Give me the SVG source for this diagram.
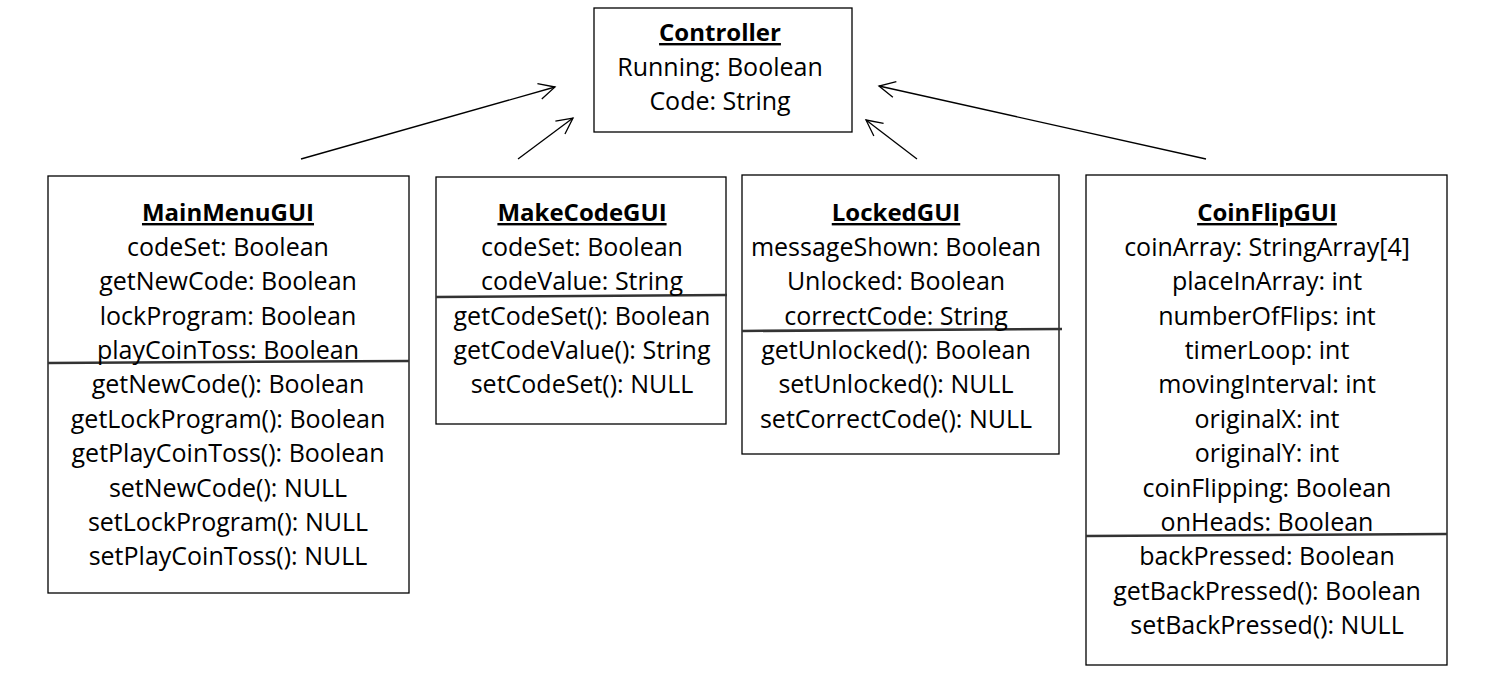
<svg xmlns="http://www.w3.org/2000/svg" width="1498" height="685" viewBox="0 0 1498 685">
<style>
.box{fill:#fff;stroke:#000;stroke-width:1.3}
.div{stroke:#333;stroke-width:2.5;fill:none}
text{font-family:"Open Sans","Noto Sans",sans-serif;font-size:25px;fill:#000;text-anchor:middle}
.t{font-weight:bold;text-decoration:underline;font-size:24px}
.conn line{stroke:#000;stroke-width:1.3;marker-end:url(#open)}
</style>
<defs>
<marker id="open" viewBox="0 0 20 20" refX="18" refY="10" markerWidth="20" markerHeight="20" markerUnits="userSpaceOnUse" orient="auto">
<path d="M2,2 L18,10 L2,18" fill="none" stroke="#000" stroke-width="1.3"/>
</marker>
</defs>
<rect width="1498" height="685" fill="#fff"/>
<g id="Controller">
<rect class="box" x="594" y="8" width="258" height="124"/>
<text class="t" x="720" y="41">Controller</text>
<text x="720" y="76">Running: Boolean</text>
<text x="720" y="110">Code: String</text>
</g>
<g id="MainMenuGUI">
<rect class="box" x="48" y="176" width="361" height="417"/>
<line class="div" x1="48" y1="363" x2="409" y2="361"/>
<text class="t" x="228" y="221">MainMenuGUI</text>
<text x="228" y="256">codeSet: Boolean</text>
<text x="228" y="290">getNewCode: Boolean</text>
<text x="228" y="325">lockProgram: Boolean</text>
<text x="228" y="359">playCoinToss: Boolean</text>
<text x="228" y="393">getNewCode(): Boolean</text>
<text x="228" y="428">getLockProgram(): Boolean</text>
<text x="228" y="462">getPlayCoinToss(): Boolean</text>
<text x="228" y="497">setNewCode(): NULL</text>
<text x="228" y="531">setLockProgram(): NULL</text>
<text x="228" y="565">setPlayCoinToss(): NULL</text>
</g>
<g id="MakeCodeGUI">
<rect class="box" x="436" y="177" width="290" height="247"/>
<line class="div" x1="436" y1="297" x2="727" y2="295"/>
<text class="t" x="582" y="221">MakeCodeGUI</text>
<text x="582" y="256">codeSet: Boolean</text>
<text x="582" y="290">codeValue: String</text>
<text x="582" y="325">getCodeSet(): Boolean</text>
<text x="582" y="359">getCodeValue(): String</text>
<text x="582" y="393">setCodeSet(): NULL</text>
</g>
<g id="LockedGUI">
<rect class="box" x="742" y="175" width="317" height="279"/>
<line class="div" x1="742" y1="331" x2="1062" y2="329"/>
<text class="t" x="896" y="221">LockedGUI</text>
<text x="896" y="256">messageShown: Boolean</text>
<text x="896" y="290">Unlocked: Boolean</text>
<text x="896" y="325">correctCode: String</text>
<text x="896" y="359">getUnlocked(): Boolean</text>
<text x="896" y="393">setUnlocked(): NULL</text>
<text x="896" y="428">setCorrectCode(): NULL</text>
</g>
<g id="CoinFlipGUI">
<rect class="box" x="1086" y="175" width="361" height="490"/>
<line class="div" x1="1086" y1="536" x2="1447" y2="534"/>
<text class="t" x="1267" y="221">CoinFlipGUI</text>
<text x="1267" y="256">coinArray: StringArray[4]</text>
<text x="1267" y="290">placeInArray: int</text>
<text x="1267" y="325">numberOfFlips: int</text>
<text x="1267" y="359">timerLoop: int</text>
<text x="1267" y="393">movingInterval: int</text>
<text x="1267" y="428">originalX: int</text>
<text x="1267" y="462">originalY: int</text>
<text x="1267" y="497">coinFlipping: Boolean</text>
<text x="1267" y="531">onHeads: Boolean</text>
<text x="1267" y="565">backPressed: Boolean</text>
<text x="1267" y="600">getBackPressed(): Boolean</text>
<text x="1267" y="634">setBackPressed(): NULL</text>
</g>
<g id="connectors" class="conn">
<line x1="301" y1="159" x2="555" y2="87"/>
<line x1="518" y1="159" x2="573" y2="118"/>
<line x1="917" y1="159" x2="866" y2="120"/>
<line x1="1206" y1="159" x2="879" y2="86"/>
</g>
</svg>
